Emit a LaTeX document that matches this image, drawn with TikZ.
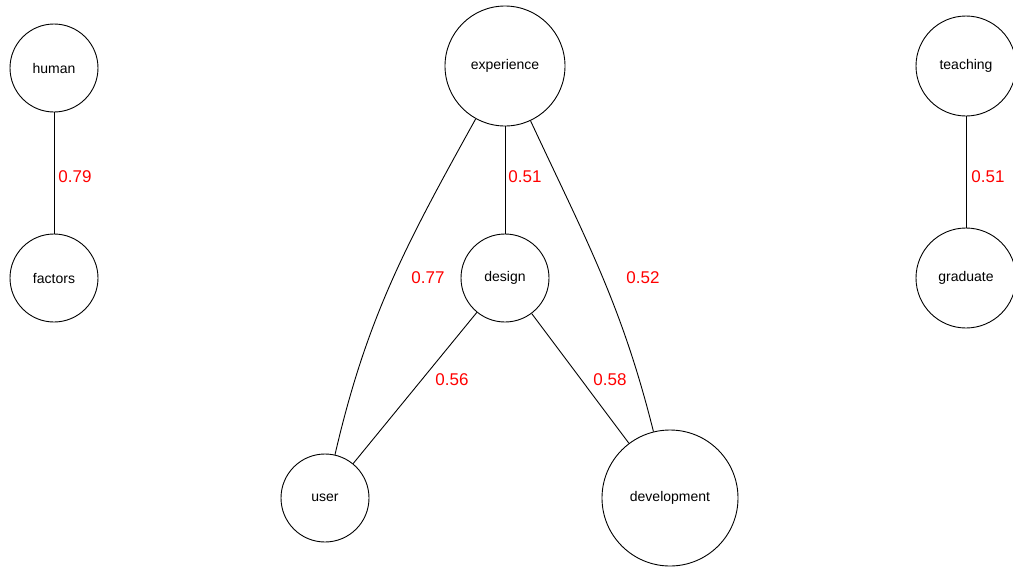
\documentclass[tikz,border=0pt]{standalone}
\usepackage{fontspec}
\setmainfont{Liberation Sans}
\begin{document}
\begin{tikzpicture}[x=1pt,y=-1pt,
  term/.style={circle,draw=black,line width=0.9pt,inner sep=0pt,font=\fontsize{14}{15}\selectfont,text=black},
  weight/.style={text=red,font=\fontsize{17}{18}\selectfont,inner sep=0pt},
  link/.style={draw=black,line width=0.9pt}]
\useasboundingbox (0,0) rectangle (1013,571);
% terms
\node[term,minimum size=88pt] (human) at (54,68) {human};
\node[term,minimum size=88pt] (factors) at (54,278) {factors};
\node[term,minimum size=120pt] (experience) at (505,66) {experience};
\node[term,minimum size=88pt] (design) at (505,278) {design};
\node[term,minimum size=88pt] (user) at (325,498) {user};
\node[term,minimum size=136pt] (development) at (670,498) {development};
\node[term,minimum size=100pt] (teaching) at (966,66) {teaching};
\node[term,minimum size=100pt] (graduate) at (966,278) {graduate};
% links
\draw[link] (human) -- (factors);
\draw[link] (experience) -- (design);
\draw[link] (teaching) -- (graduate);
\draw[link] (design) -- (user);
\draw[link] (design) -- (development);
\draw[link] (experience) to[out=241,in=77] (user);
\draw[link] (experience) to[out=295,in=104] (development);
% weights
\node[weight] (w1) at (75,177) {0.79};
\node[weight] (w2) at (525,177) {0.51};
\node[weight] (w3) at (988,177) {0.51};
\node[weight] (w4) at (428,278) {0.77};
\node[weight] (w5) at (643,278) {0.52};
\node[weight] (w6) at (452,380) {0.56};
\node[weight] (w7) at (610,380) {0.58};
\end{tikzpicture}
\end{document}
